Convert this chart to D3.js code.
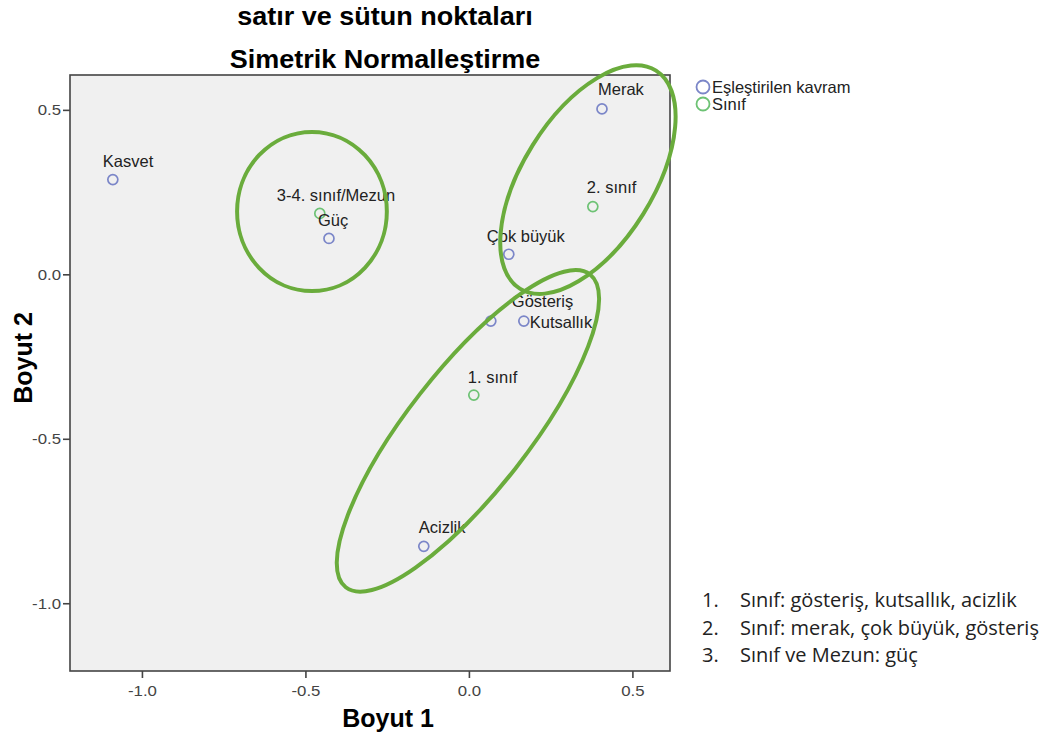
<!DOCTYPE html>
<html><head><meta charset="utf-8">
<script src="https://cdn.jsdelivr.net/npm/d3@7"></script>
<style>body{margin:0;background:#fff;} svg{display:block;}</style>
</head><body>
<svg id="c" width="1054" height="740"></svg>
<script>
// ---- data ----
const labels  = ["Kasvet","3-4. sınıf/Mezun","Güç","Merak","2. sınıf","Çok büyük","Gösteriş","Kutsallık","1. sınıf","Acizlik"];
const dim1    = [-1.089,-0.456,-0.428,0.407,0.379,0.122,0.067,0.168,0.015,-0.138];
const dim2    = [0.288,0.185,0.109,0.503,0.206,0.061,-0.142,-0.142,-0.367,-0.827];
const groups  = ["kavram","sinif","kavram","kavram","sinif","kavram","kavram","kavram","sinif","kavram"];
const legendNames = ["Eşleştirilen kavram","Sınıf"];
const xTicks = [-1.0,-0.5,0.0,0.5];
const yTicks = [0.5,0.0,-0.5,-1.0];
// annotation ellipses in data units: center x, center y, semi axes, angle
const ellCx = [-0.480, 0.364, -0.003];
const ellCy = [0.191, 0.288, -0.476];
const ellRa = [0.229, 0.393, 0.607];
const ellRb = [0.242, 0.198, 0.184];
const ellAng = [0, -58, -52];
const notes = ["Sınıf: gösteriş, kutsallık, acizlik","Sınıf: merak, çok büyük, gösteriş","Sınıf ve Mezun: güç"];
// label offsets (px) for readability
const labDx = [-10,-43,-11,-4,-6,-22,21,6,-6,-5];
const labDy = [-13,-12,-12,-14,-14,-12,-14,7,-12,-13];

const svg = d3.select("#c");
const L=70,R=670,T=75,B=671;
const x = d3.scaleLinear().domain([-1.22,0.615]).range([L,R]);
const y = d3.scaleLinear().domain([-1.206,0.606]).range([B,T]);
const col = {kavram:"#7b86c8", sinif:"#6dc274"};
const font = "'Liberation Sans', Arial, sans-serif";
const fmt = d => d.toFixed(1);

svg.append("rect").attr("x",L).attr("y",T).attr("width",R-L).attr("height",B-T)
  .attr("fill","#f0f0f0").attr("stroke","#444").attr("stroke-width",1.6);

const xa = svg.append("g").attr("transform",`translate(0,${B})`)
  .call(d3.axisBottom(x).tickValues(xTicks).tickFormat(fmt).tickSize(7).tickSizeOuter(0));
const ya = svg.append("g").attr("transform",`translate(${L},0)`)
  .call(d3.axisLeft(y).tickValues(yTicks).tickFormat(fmt).tickSize(7).tickSizeOuter(0));
[xa,ya].forEach(a=>{
  a.select(".domain").remove();
  a.selectAll("line").attr("stroke","#444").attr("stroke-width",1.6);
  a.selectAll("text").attr("fill","#444").style("font-family",font).style("font-size","14px");
});
xa.selectAll("text").attr("y",0).attr("dy",0).attr("transform","translate(0,25) scale(1.2,1)");
ya.selectAll("text").attr("x",0).attr("dy","0.35em").attr("transform","translate(-9,0) scale(1.2,1)");

// titles
const title = svg.append("g").attr("transform","translate(385,0) scale(1.08,1)");
title.append("text").attr("x",0).attr("y",25).attr("text-anchor","middle")
  .style("font-family",font).style("font-weight","bold").style("font-size","25px").text("satır ve sütun noktaları");
title.append("text").attr("x",0).attr("y",68).attr("text-anchor","middle")
  .style("font-family",font).style("font-weight","bold").style("font-size","25px").text("Simetrik Normalleştirme");
svg.append("text").attr("x",388).attr("y",727).attr("text-anchor","middle")
  .style("font-family",font).style("font-weight","bold").style("font-size","25px").text("Boyut 1");
svg.append("text").attr("transform","translate(32,358) rotate(-90)").attr("text-anchor","middle")
  .style("font-family",font).style("font-weight","bold").style("font-size","25px").text("Boyut 2");

// points
const pts = labels.map((l,i)=>({l,x:dim1[i],y:dim2[i],g:groups[i],dx:labDx[i],dy:labDy[i]}));
svg.append("g").selectAll("circle").data(pts).join("circle")
  .attr("cx",d=>x(d.x)).attr("cy",d=>y(d.y)).attr("r",5)
  .attr("fill","none").attr("stroke",d=>col[d.g]).attr("stroke-width",1.7);
svg.append("g").selectAll("text").data(pts).join("text")
  .attr("x",d=>x(d.x)+d.dx).attr("y",d=>y(d.y)+d.dy)
  .style("font-family",font).style("font-size","16.5px").attr("fill","#222").text(d=>d.l);

// ellipses
const kx = x(1)-x(0), ky = y(0)-y(1);
svg.append("g").selectAll("ellipse").data(ellCx.map((c,i)=>({cx:c,cy:ellCy[i],a:ellRa[i],b:ellRb[i],ang:ellAng[i]})))
  .join("ellipse")
  .attr("transform",d=>`translate(${x(d.cx)},${y(d.cy)}) rotate(${d.ang})`)
  .attr("rx",d=>d.a*kx).attr("ry",d=>d.b*ky)
  .attr("fill","none").attr("stroke","#6aac3c").attr("stroke-width",4);

// legend
const lg = svg.append("g");
legendNames.forEach((n,i)=>{
  const k = i===0?"kavram":"sinif";
  lg.append("circle").attr("cx",703).attr("cy",87+i*17).attr("r",6.5)
    .attr("fill","none").attr("stroke",col[k]).attr("stroke-width",1.8);
  lg.append("text").attr("x",712).attr("y",93+i*17).style("font-family",font)
    .style("font-size","16.5px").attr("fill","#222").text(n);
});

// notes
notes.forEach((n,i)=>{
  svg.append("text").attr("x",702).attr("y",607+i*27.5).style("font-family","'Open Sans', sans-serif")
    .style("font-size","20px").attr("fill","#222").text((i+1)+".");
  svg.append("text").attr("x",740).attr("y",607+i*27.5).style("font-family","'Open Sans', sans-serif")
    .style("font-size","20px").attr("fill","#222").text(n);
});
</script>
</body></html>
